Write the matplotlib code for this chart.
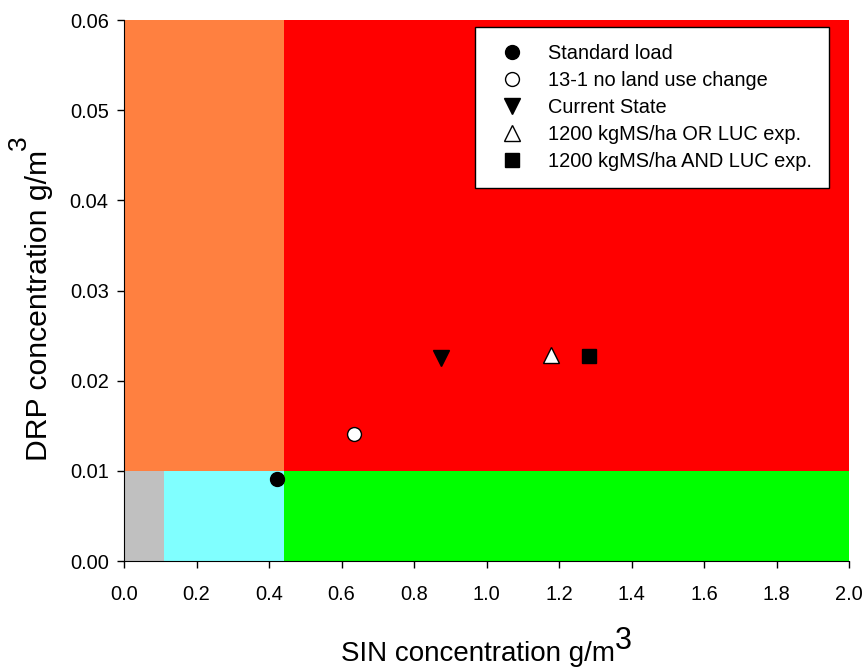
import numpy as np
import matplotlib.pyplot as plt

plt.rcParams['font.family'] = ['Liberation Sans', 'DejaVu Sans']

# zonas de fundo (limites em x e y)
lim_sin = [0.0, 0.11, 0.441, 2.0]
lim_drp = [0.0, 0.01, 0.06]
cor_baixo = ['#C0C0C0', '#80FFFF', '#00FF00']
cor_cima = ['#FF8040', '#FF8040', '#FF0000']

# cenarios
nomes = ['Standard load', '13-1 no land use change', 'Current State',
         '1200 kgMS/ha OR LUC exp.', '1200 kgMS/ha AND LUC exp.']
sin = [0.423, 0.634, 0.874, 1.177, 1.282]
drp = [0.0091, 0.0141, 0.0225, 0.0229, 0.0227]
marcadores = ['o', 'o', 'v', '^', 's']
preenchimento = ['black', 'white', 'black', 'white', 'black']
tamanhos = [10, 10, 11, 11, 10]

fig = plt.figure(figsize=(8.63, 6.67), dpi=100)
ax = fig.add_axes([0.1437, 0.1589, 0.8401, 0.811])

for i in range(3):
    ax.fill_between([lim_sin[i], lim_sin[i + 1]], lim_drp[0], lim_drp[1],
                    color=cor_baixo[i], linewidth=0, zorder=0)
    ax.fill_between([lim_sin[i], lim_sin[i + 1]], lim_drp[1], lim_drp[2],
                    color=cor_cima[i], linewidth=0, zorder=0)

for i in range(len(nomes)):
    ax.plot(sin[i], drp[i], linestyle='none', marker=marcadores[i],
            markersize=tamanhos[i], markerfacecolor=preenchimento[i],
            markeredgecolor='black', markeredgewidth=1.0,
            label=nomes[i], zorder=3)

ax.set_xlim(0, 2.0)
ax.set_ylim(0, 0.06)
ax.set_xticks(np.arange(0, 2.01, 0.2))
ax.set_yticks(np.arange(0, 0.061, 0.01))
ax.set_xticklabels(['%.1f' % v for v in np.arange(0, 2.01, 0.2)])
ax.set_yticklabels(['%.2f' % v for v in np.arange(0, 0.061, 0.01)])
ax.tick_params(labelsize=14.4, length=5, width=1, direction='out')
ax.tick_params(axis='x', pad=12.6)
ax.tick_params(axis='y', pad=6)

for lado in ['top', 'right']:
    ax.spines[lado].set_visible(False)

rotulo_x = ax.set_xlabel('SIN concentration g/m', fontsize=20, labelpad=26.5)
rotulo_y = ax.set_ylabel('DRP concentration g/m', fontsize=21.7, labelpad=12)
# centraliza texto + expoente juntos
rotulo_x.set_x(0.4876)
rotulo_y.set_y(0.473)
# expoentes "3" do jeito do grafico original
ax.annotate('3', xy=(1, 0), xycoords=rotulo_x, xytext=(0.5, 8),
            textcoords='offset points', ha='left', va='bottom', fontsize=22)
ax.annotate('3', xy=(1, 1), xycoords=rotulo_y, xytext=(-16, 0),
            textcoords='offset points', ha='right', va='bottom',
            rotation=90, fontsize=19)

leg = ax.legend(loc='upper right', bbox_to_anchor=(0.972, 0.9865),
                borderaxespad=0, fontsize=14.4, fancybox=False,
                edgecolor='black', framealpha=1, borderpad=0.85,
                labelspacing=0.4, handletextpad=0.8, handlelength=2)
leg.get_frame().set_linewidth(1.0)

plt.savefig('out.png', dpi=100)
